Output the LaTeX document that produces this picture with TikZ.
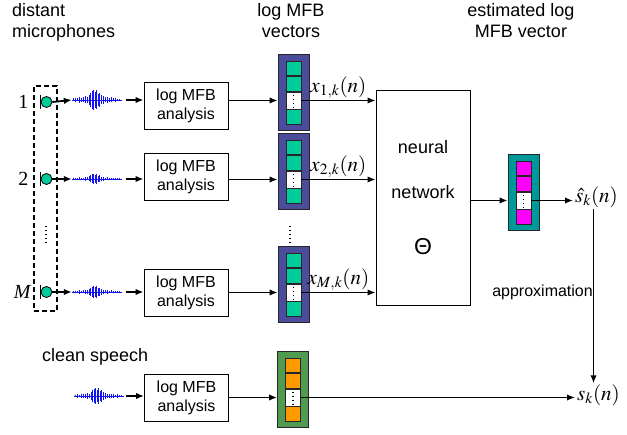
\documentclass[tikz,border=0pt]{standalone}
\usepackage{mathptmx}
\usepackage{fontspec}
\setmainfont{Liberation Sans}
\newfontfamily\tms{Liberation Serif}
\usetikzlibrary{arrows.meta,calc}
\definecolor{micgreen}{RGB}{0,204,153}
\definecolor{vecblue}{RGB}{76,76,156}
\definecolor{vecteal}{RGB}{0,153,153}
\definecolor{vecgreen}{RGB}{80,155,80}
\definecolor{cellorange}{RGB}{255,153,0}
\definecolor{cellmag}{RGB}{255,0,255}
\definecolor{wavecol}{RGB}{20,20,240}
\tikzset{
  arr/.style={-{Latex[length=8pt,width=6.5pt]}, line width=1.8pt},
  anbox/.style={draw, line width=0.9pt, minimum width=84pt, minimum height=47pt, align=center, font=\fontsize{16}{19}\selectfont, inner sep=0pt},
  headtxt/.style={font=\fontsize{18}{21}\selectfont, inner sep=0pt},
  mathtxt/.style={font=\fontsize{21}{24}\selectfont, inner sep=1pt},
  vout/.style={draw=black!85, line width=0.9pt, minimum width=31pt, minimum height=76pt, inner sep=0pt},
  vcell/.style={draw=black!85, line width=0.6pt, minimum width=15pt, minimum height=14.5pt, inner sep=0pt},
  dotsline/.style={line width=1.1pt, dash pattern=on 1.1pt off 2.8pt},
  mic/.style={circle, draw, line width=0.8pt, fill=micgreen, minimum size=11pt, inner sep=0pt},
  wv/.style={wavecol, line width=0.7pt},
}
\newcommand\mfbvec[5]{%
  \node[vout, fill=#4] (#1) at (#2,#3) {};
  \node[vcell, fill=#5] (#1a) at (#2,#3-23.5) {};
  \node[vcell, fill=#5] (#1b) at (#2,#3-8) {};
  \node[vcell, fill=white, minimum height=17pt] (#1w) at (#2,#3+8.5) {};
  \node[vcell, fill=#5] (#1d) at (#2,#3+25) {};
  \draw[dotsline] ($(#1w.north)+(0,3.5)$) -- ($(#1w.south)+(0,-2)$);
}
\newcommand\wavesig[4]{%
  \node[minimum width=50pt, minimum height=20pt, inner sep=0pt] (#1) at (#2+25,#3) {};
  \draw[wv, line width=0.9pt] (#2,#3) -- ++(50,0);
  \foreach \dx/\a in {1/.15,3/.2,5/.15,7/.3,9/.2,11/.25,13/.35,15/.3,17/.5,18.5/.7,20/.9,21.5/1,23/.8,24.5/.95,26/.6,27.5/.7,29/.45,31/.4,33/.25,35/.3,37/.2,39/.25,41/.15,43/.2,45/.12,47/.1}
    \draw[wv] (#2+\dx,#3-\a*#4) -- (#2+\dx,#3+\a*#4);
}
\begin{document}
\begin{tikzpicture}[x=1pt,y=-1pt]
\useasboundingbox (0,0) rectangle (627,435);
% headers
\node[headtxt, anchor=north west, align=left] (hmic) at (12,3) {distant\\microphones};
\node[headtxt, anchor=north, align=center] (hvec) at (291,3) {log MFB\\vectors};
\node[headtxt, anchor=north, align=center] (hest) at (521,3) {estimated log\\MFB vector};
\node[headtxt, anchor=west] (hclean) at (42,357) {clean speech};
% microphone group
\node[draw, line width=1.3pt, dash pattern=on 5pt off 3pt, minimum width=23pt, minimum height=225pt, inner sep=0pt] (micgrp) at (45.5,198.5) {};
\node[mic] (m1) at (46.5,102) {};
\node[mic] (m2) at (46.5,179) {};
\node[mic] (mM) at (46.5,292) {};
\foreach \m in {m1,m2,mM}
  \draw[line width=1pt] ($(\m.west)+(0,-7)$) -- ($(\m.west)+(0,7)$);
\node[font=\tms\fontsize{20}{22}\selectfont, anchor=east] (l1) at (32,102) {1};
\node[font=\tms\fontsize{20}{22}\selectfont, anchor=east] (l2) at (32,179) {2};
\node[font=\tms\itshape\fontsize{20}{22}\selectfont, anchor=east] (lM) at (34,292) {M};
\draw[dotsline] (46,226) -- (46,242);
% waveforms
\wavesig{w1}{72}{100}{10}
\wavesig{w2}{72}{179}{5}
\wavesig{wM}{72}{292}{6}
\wavesig{wc}{74}{396}{8}
% analysis boxes
\node[anbox] (a1) at (186,105.5) {log MFB\\analysis};
\node[anbox] (a2) at (186,177) {log MFB\\analysis};
\node[anbox] (aM) at (186,293) {log MFB\\analysis};
\node[anbox] (ac) at (186.5,397.5) {log MFB\\analysis};
% vectors
\mfbvec{v1}{293.5}{92}{vecblue}{micgreen}
\mfbvec{v2}{293.5}{171}{vecblue}{micgreen}
\mfbvec{vM}{293.5}{284}{vecblue}{micgreen}
\mfbvec{vc}{293}{389}{vecgreen}{cellorange}
\draw[dotsline] (290,226) -- (290,242);
% neural network
\node[draw, line width=0.9pt, minimum width=94pt, minimum height=215pt, inner sep=0pt] (nn) at (423,197.5) {};
\node[headtxt] (nn1) at (423,147) {neural};
\node[headtxt] (nn2) at (423,192) {network};
\node[font=\fontsize{23}{25}\selectfont, inner sep=0pt] (nn3) at (423,247) {Θ};
\mfbvec{vo}{523.5}{192}{vecteal}{cellmag}
% output labels
\node[mathtxt, anchor=west] (shat) at (574,197) {$\hat{s}_k(n)$};
\node[mathtxt, anchor=west] (s) at (576,395) {$s_k(n)$};
\node[font=\fontsize{16}{19}\selectfont, anchor=east, inner sep=1pt] (apx) at (594,292) {approximation};
% connectors: mics -> waves -> boxes
\foreach \r in {1,2,M} {
  \draw[arr] (m\r.east) -- (w\r.west);
  \draw[arr, shorten <=4pt] (w\r.east) -- (a\r.west |- w\r.east);
  \draw[arr] (a\r.east |- v\r w) -- (v\r.west |- v\r w);
}
\draw[arr, shorten <=2pt] (wc.east) -- (ac.west |- wc.east);
\draw[arr] (ac.east |- vcw) -- (vc.west |- vcw);
% vectors -> NN
\draw[arr] (v1w.east) -- node[mathtxt, above=0pt] (x1) {$x_{1,k}(n)$} (nn.west |- v1w);
\draw[arr] (v2w.east) -- node[mathtxt, above=0pt] (x2) {$x_{2,k}(n)$} (nn.west |- v2w);
\draw[arr] (vMw.east) -- node[mathtxt, above=0pt] (xM) {$x_{M,k}(n)$} (nn.west |- vMw);
% NN -> output
\draw[arr] (nn.east |- vow) -- (vo.west |- vow);
\draw[arr, shorten >=1pt] (vow.east) -- (shat.west |- vow);
\coordinate (vtop) at ($(shat.south)+(-3,0)$);
\draw[arr] (vtop) -- (vtop |- s.north);
\draw[arr, shorten >=1pt] (vcw.east) -- (s.west |- vcw);
\end{tikzpicture}
\end{document}
